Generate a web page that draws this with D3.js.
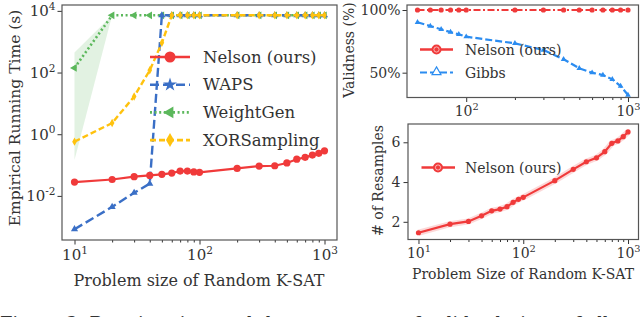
<!DOCTYPE html>
<html>
<head>
<meta charset="utf-8">
<script src="https://cdn.jsdelivr.net/npm/d3@7"></script>
<style>
  body { margin: 0; background: #fff; }
  svg { display: block; }
  text { font-family: 'DejaVu Serif', serif; fill: #333; }
  .axis path, .axis line { stroke: #333; }
</style>
</head>
<body>
<script>
// problem sizes (number of variables)
const sizes = [10, 20, 30, 40, 50, 60, 70, 80, 90, 100, 200, 300, 400, 500, 600, 700, 800, 900, 1000];
const sizesValid = [50, 60, 70, 80, 90, 100, 200, 300, 400, 500, 600, 700, 800, 900, 1000];

// running time in seconds (timeout ~ 7200s)
const timeNelson = [0.028, 0.034, 0.042, 0.046, 0.050, 0.055, 0.064, 0.064, 0.060, 0.058, 0.078, 0.093, 0.095, 0.117, 0.155, 0.178, 0.21, 0.24, 0.29];
const timeWaps = [0.00083, 0.0044, 0.0126, 0.025, 7200, 7200, 7200, 7200, 7200, 7200, 7200, 7200, 7200, 7200, 7200, 7200, 7200, 7200, 7200];
const timeWeightGen = [141, 7200, 7200, 7200, 7200, 7200, 7200, 7200, 7200, 7200, 7200, 7200, 7200, 7200, 7200, 7200, 7200, 7200, 7200];
const weightGenLow = [0.145, 7200];
const weightGenHigh = [445, 7200];
const timeXor = [0.575, 2.3, 16.7, 118, 920, 7200, 7200, 7200, 7200, 7200, 7200, 7200, 7200, 7200, 7200, 7200, 7200, 7200, 7200];

// validness (%)
const validNelson = [100, 100, 100, 100, 100, 100, 100, 100, 100, 100, 100, 100, 100, 100, 100];
const validGibbs = [90.2, 87.2, 84.6, 82.4, 80.6, 78.7, 73.4, 68.1, 60.7, 53.5, 50, 48.1, 44.7, 39.3, 32.2];

// number of resamples
const resamples = [1.45, 1.88, 2.02, 2.30, 2.55, 2.64, 2.76, 2.98, 3.13, 3.23, 4.07, 4.64, 5.02, 5.22, 5.53, 5.95, 6.07, 6.28, 6.52];

const width = 640, height = 317;
const red = '#f03a3a', blue = '#3a6fc6', green = '#5cb85c', gold = '#ffc20e', lightBlue = '#2b8cf0';

const svg = d3.select('body').append('svg')
  .attr('width', width)
  .attr('height', height);

function minorTicks(lo, hi) {
  const out = [];
  for (let p = lo; p < hi; p++) {
    for (let m = 2; m <= 9; m++) out.push(m * Math.pow(10, p));
  }
  return out;
}

function powerLabels(g, fs) {
  g.selectAll('.tick text').each(function(d) {
    const t = d3.select(this);
    const e = Math.round(Math.log10(d));
    t.text('');
    t.append('tspan').text('10');
    t.append('tspan').attr('font-size', fs * 0.7).attr('dy', -fs * 0.42).text(e);
  });
}

function frame(x, y) {
  svg.append('rect')
    .attr('x', x.range()[0]).attr('y', y.range()[1])
    .attr('width', x.range()[1] - x.range()[0])
    .attr('height', y.range()[0] - y.range()[1])
    .attr('fill', 'none').attr('stroke', '#555').attr('stroke-width', 1.2);
}

function logXAxis(x, y0, lo, hi, fs, pad) {
  const g = svg.append('g').attr('class', 'axis').attr('transform', 'translate(0,' + y0 + ')');
  g.call(d3.axisBottom(x).tickValues(minorTicks(lo, hi).filter(v => v >= x.domain()[0] && v <= x.domain()[1])).tickSize(2.5).tickFormat(''));
  g.select('.domain').remove();
  const g2 = svg.append('g').attr('class', 'axis').attr('transform', 'translate(0,' + y0 + ')');
  g2.call(d3.axisBottom(x).tickValues(d3.range(lo, hi + 1).map(p => Math.pow(10, p))).tickSize(4.5).tickPadding(pad));
  g2.select('.domain').remove();
  g2.selectAll('text').attr('font-size', fs).attr('fill', '#333');
  powerLabels(g2, fs);
}

function symbolPath(type, size) {
  return d3.symbol().type(type).size(size)();
}

// ----- left panel: running time -----
const x1 = d3.scaleLog().domain([Math.pow(10, 0.9), Math.pow(10, 3.1)]).range([62, 337]);
const y1 = d3.scaleLog().domain([Math.pow(10, -3.43), Math.pow(10, 4.19)]).range([240, 5]);

logXAxis(x1, 240, 1, 3, 15, 5);
const gy1 = svg.append('g').attr('class', 'axis').attr('transform', 'translate(62,0)');
gy1.call(d3.axisLeft(y1).tickValues([1e-2, 1, 1e2, 1e4]).tickSize(4.5).tickPadding(2));
gy1.select('.domain').remove();
gy1.selectAll('text').attr('font-size', 15).attr('fill', '#333');
powerLabels(gy1, 15);

// shaded band for WeightGen
svg.append('path')
  .datum(weightGenLow.map((v, i) => [sizes[i], v, weightGenHigh[i]]))
  .attr('fill', green).attr('fill-opacity', 0.18)
  .attr('d', d3.area().x(d => x1(d[0])).y0(d => y1(d[1])).y1(d => y1(d[2])));

const line1 = d3.line().x(d => x1(d[0])).y(d => y1(d[1]));
const triUp = symbolPath(d3.symbolTriangle, 22);
const triLeft = symbolPath(d3.symbolTriangle, 26);
const diamond = 'M0,-4.2L2.3,0L0,4.2L-2.3,0Z';

const seriesLeft = [
  { name: 'WeightGen', vals: timeWeightGen, color: green, dash: '2,2.6', mark: triLeft, rot: -90, w: 2.6 },
  { name: 'WAPS', vals: timeWaps, color: blue, dash: '9,4', mark: triUp, rot: 0, w: 2.4 },
  { name: 'XORSampling', vals: timeXor, color: gold, dash: '6,3', mark: diamond, rot: 0, w: 2.4 },
  { name: 'Nelson (ours)', vals: timeNelson, color: red, dash: null, mark: null, rot: 0, w: 2.2 }
];

seriesLeft.forEach(s => {
  const pts = sizes.map((n, i) => [n, s.vals[i]]);
  svg.append('path').datum(pts)
    .attr('fill', 'none').attr('stroke', s.color).attr('stroke-width', s.w)
    .attr('stroke-dasharray', s.dash).attr('d', line1);
  if (s.mark) {
    svg.append('g').selectAll('path').data(pts).enter().append('path')
      .attr('d', s.mark).attr('fill', s.color)
      .attr('transform', d => 'translate(' + x1(d[0]) + ',' + y1(d[1]) + ') rotate(' + s.rot + ')');
  } else {
    svg.append('g').selectAll('circle').data(pts).enter().append('circle')
      .attr('cx', d => x1(d[0])).attr('cy', d => y1(d[1])).attr('r', 3.6)
      .attr('fill', s.color);
  }
});

// left legend
const legLeft = [
  { name: 'Nelson (ours)', color: red, dash: null, mark: 'circle', rot: 0 },
  { name: 'WAPS', color: blue, dash: '9,4', mark: symbolPath(d3.symbolStar, 60), rot: 0 },
  { name: 'WeightGen', color: green, dash: '2,2.6', mark: symbolPath(d3.symbolTriangle, 60), rot: -90 },
  { name: 'XORSampling', color: gold, dash: '6,3', mark: 'M0,-7L4,0L0,7L-4,0Z', rot: 0 }
];
legLeft.forEach((d, i) => {
  const yy = 57 + i * 27.7;
  const g = svg.append('g');
  g.append('line').attr('x1', 150).attr('x2', 190).attr('y1', yy).attr('y2', yy)
    .attr('stroke', d.color).attr('stroke-width', 2.6).attr('stroke-dasharray', d.dash);
  if (d.mark === 'circle') {
    g.append('circle').attr('cx', 170).attr('cy', yy).attr('r', 5.5).attr('fill', d.color);
  } else {
    g.append('path').attr('d', d.mark).attr('fill', d.color)
      .attr('transform', 'translate(170,' + yy + ') rotate(' + d.rot + ')');
  }
  g.append('text').attr('x', 203).attr('y', yy + 5.5).attr('font-size', 16.5).text(d.name);
});

frame(x1, y1);

svg.append('text')
  .attr('transform', 'rotate(-90)')
  .attr('x', -118).attr('y', 20)
  .attr('text-anchor', 'middle').attr('font-size', 15.5)
  .text('Empirical Running Time (s)');

svg.append('text')
  .attr('x', 199).attr('y', 286)
  .attr('text-anchor', 'middle').attr('font-size', 16)
  .text('Problem size of Random K-SAT');

// ----- right top panel: validness -----
const x2 = d3.scaleLog().domain([Math.pow(10, 1.634), Math.pow(10, 3.065)]).range([407, 638.5]);
const y2 = d3.scaleLinear().domain([30.2, 104]).range([97.5, 5]);

logXAxis(x2, 97.5, 2, 3, 14, 4);
const gy2 = svg.append('g').attr('class', 'axis').attr('transform', 'translate(407,0)');
gy2.call(d3.axisLeft(y2).tickValues([50, 100]).tickSize(4.5).tickPadding(2).tickFormat(d => d + '%'));
gy2.select('.domain').remove();
gy2.selectAll('text').attr('font-size', 14).attr('fill', '#333');

const line2 = d3.line().x(d => x2(d[0])).y(d => y2(d[1]));
const gibbsPts = sizesValid.map((n, i) => [n, validGibbs[i]]);
svg.append('path').datum(gibbsPts)
  .attr('fill', 'none').attr('stroke', lightBlue).attr('stroke-width', 2.2)
  .attr('stroke-dasharray', '7,3').attr('d', line2);
svg.append('g').selectAll('path').data(gibbsPts).enter().append('path')
  .attr('d', symbolPath(d3.symbolTriangle, 14)).attr('fill', lightBlue)
  .attr('transform', d => 'translate(' + x2(d[0]) + ',' + y2(d[1]) + ')');

const nelsonValidPts = sizesValid.map((n, i) => [n, validNelson[i]]);
svg.append('path').datum(nelsonValidPts)
  .attr('fill', 'none').attr('stroke', red).attr('stroke-width', 2.2)
  .attr('stroke-dasharray', '7,2.5,2,2.5').attr('d', line2);
svg.append('g').selectAll('circle').data(nelsonValidPts).enter().append('circle')
  .attr('cx', d => x2(d[0])).attr('cy', d => y2(d[1])).attr('r', 2.6).attr('fill', red);

// right top legend
function ringMarker(g, cx, cy) {
  g.append('circle').attr('cx', cx).attr('cy', cy).attr('r', 5).attr('fill', red);
  g.append('circle').attr('cx', cx).attr('cy', cy).attr('r', 2.6).attr('fill', 'none')
    .attr('stroke', '#fff').attr('stroke-opacity', 0.6).attr('stroke-width', 1);
}
const lg2 = svg.append('g');
lg2.append('line').attr('x1', 420).attr('x2', 453).attr('y1', 49.5).attr('y2', 49.5)
  .attr('stroke', red).attr('stroke-width', 2.4);
ringMarker(lg2, 436.5, 49.5);
lg2.append('text').attr('x', 465).attr('y', 54.5).attr('font-size', 14).text('Nelson (ours)');
lg2.append('line').attr('x1', 420).attr('x2', 453).attr('y1', 72.5).attr('y2', 72.5)
  .attr('stroke', lightBlue).attr('stroke-width', 2.2).attr('stroke-dasharray', '7,3');
lg2.append('path').attr('d', symbolPath(d3.symbolTriangle, 34)).attr('fill', '#fff')
  .attr('stroke', lightBlue).attr('stroke-width', 1.2)
  .attr('transform', 'translate(436.5,72)');
lg2.append('text').attr('x', 465).attr('y', 77.5).attr('font-size', 14).text('Gibbs');

frame(x2, y2);

svg.append('text')
  .attr('transform', 'rotate(-90)')
  .attr('x', -50).attr('y', 354)
  .attr('text-anchor', 'middle').attr('font-size', 14)
  .text('Validness (%)');

// ----- right bottom panel: resamples -----
const x3 = d3.scaleLog().domain([Math.pow(10, 0.9), Math.pow(10, 3.1)]).range([408, 638.5]);
const y3 = d3.scaleLinear().domain([1.11, 6.92]).range([239.5, 124]);

logXAxis(x3, 239.5, 1, 3, 14, 4);
const gy3 = svg.append('g').attr('class', 'axis').attr('transform', 'translate(408,0)');
gy3.call(d3.axisLeft(y3).tickValues([2, 4, 6]).tickSize(4.5).tickPadding(3).tickFormat(d3.format('d')));
gy3.select('.domain').remove();
gy3.selectAll('text').attr('font-size', 14).attr('fill', '#333');

const line3 = d3.line().x(d => x3(d[0])).y(d => y3(d[1]));
const resPts = sizes.map((n, i) => [n, resamples[i]]);
svg.append('path').datum(resPts)
  .attr('fill', 'none').attr('stroke', red).attr('stroke-opacity', 0.2).attr('stroke-width', 6)
  .attr('d', line3);
svg.append('path').datum(resPts)
  .attr('fill', 'none').attr('stroke', red).attr('stroke-width', 2.2)
  .attr('d', line3);
svg.append('g').selectAll('circle').data(resPts).enter().append('circle')
  .attr('cx', d => x3(d[0])).attr('cy', d => y3(d[1])).attr('r', 2.6).attr('fill', red);

const lg3 = svg.append('g');
lg3.append('line').attr('x1', 421.5).attr('x2', 455).attr('y1', 167.5).attr('y2', 167.5)
  .attr('stroke', red).attr('stroke-width', 2.4);
ringMarker(lg3, 438, 167.5);
lg3.append('text').attr('x', 465).attr('y', 172.5).attr('font-size', 14).text('Nelson (ours)');

frame(x3, y3);

svg.append('text')
  .attr('transform', 'rotate(-90)')
  .attr('x', -180.5).attr('y', 383)
  .attr('text-anchor', 'middle').attr('font-size', 14)
  .text('# of Resamples');

svg.append('text')
  .attr('x', 523).attr('y', 279)
  .attr('text-anchor', 'middle').attr('font-size', 14)
  .text('Problem Size of Random K-SAT');

// caption, cut off by the bottom edge
svg.append('text')
  .attr('x', 0).attr('y', 330).attr('font-size', 18)
  .text('Figure 3: Running time and the percentage of valid solutions of all samplers');
</script>
</body>
</html>
